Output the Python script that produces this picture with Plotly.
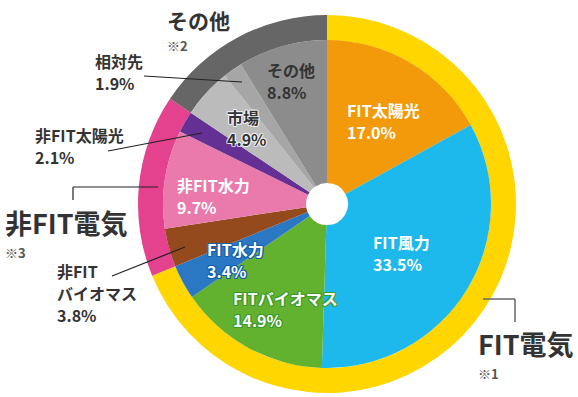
import plotly.graph_objects as go

W, H = 578, 397

# ---- data ----
inner_labels = ["FIT太陽光", "FIT風力", "FITバイオマス", "FIT水力", "非FITバイオマス",
                "非FIT水力", "非FIT太陽光", "市場", "相対先", "その他"]
inner_values = [17.0, 33.5, 14.9, 3.4, 3.8, 9.7, 2.1, 4.9, 1.9, 8.8]
inner_colors = ["#F29A0A", "#1DB9EC", "#62B22F", "#2A78C4", "#944A1C",
                "#EA7AAB", "#653093", "#BBBBBB", "#A6A6A6", "#8C8C8C"]

group_labels = ["FIT電気", "非FIT電気", "その他"]
group_notes = ["※1", "※3", "※2"]
group_values = [68.8, 15.6, 15.6]
group_colors = ["#FFD600", "#E4418E", "#666666"]

FONT = "Noto Sans CJK JP"
DARK = "#333333"

def px(x):
    return x / W

def py(y):
    return 1 - y / H

cx, cy = 327, 204
R_out, R_in, R_hole = 189, 164, 21

fig = go.Figure()
fig.add_trace(go.Pie(
    values=group_values, labels=group_labels, sort=False, direction="clockwise",
    rotation=0, hole=R_in / R_out, textinfo="none", hoverinfo="label+value",
    marker=dict(colors=group_colors, line=dict(width=0)),
    domain=dict(x=[px(cx - R_out), px(cx + R_out)], y=[py(cy + R_out), py(cy - R_out)]),
    showlegend=False,
))
fig.add_trace(go.Pie(
    values=inner_values, labels=inner_labels, sort=False, direction="clockwise",
    rotation=0, hole=R_hole / R_in, textinfo="none", hoverinfo="label+value",
    marker=dict(colors=inner_colors, line=dict(width=0)),
    domain=dict(x=[px(cx - R_in), px(cx + R_in)], y=[py(cy + R_in), py(cy - R_in)]),
    showlegend=False,
))

annotations = []

def txt(x, y, s, size=16, color="white", shadow=None):
    f = dict(family=FONT, size=size, color=color, weight="bold")
    if shadow:
        f["shadow"] = shadow
    annotations.append(dict(x=px(x - 1), y=py(y), xref="paper", yref="paper", text=s,
                            showarrow=False, xanchor="left", yanchor="middle",
                            align="left", font=f))

def outline(c):
    return (f"-1px -1px 0 {c}, 1px -1px 0 {c}, -1px 1px 0 {c}, 1px 1px 0 {c}, "
            f"0 1px 0 {c}, 0 -1px 0 {c}, 1px 0 0 {c}, -1px 0 0 {c}")

def pct(i):
    return f"{inner_values[i]:.1f}%"

# inner labels: (x, name-line y, value-line y, colour, outline)
label_pos = {
    0: (346, 110, 132, "white", None),
    1: (372, 242, 264, "white", None),
    2: (232, 298, 320, "white", outline("#3B9A2A")),
    3: (206, 249, 271, "white", outline("#1560B0")),
    5: (176, 185, 207, "white", None),
    7: (226, 117, 139, DARK, outline("rgba(255,255,255,0.5)")),
    9: (266, 70, 92, DARK, None),
}
for i, (x, y1, y2, col, sh) in label_pos.items():
    txt(x, y1, inner_labels[i], color=col, shadow=sh)
    txt(x, y2, pct(i), color=col, shadow=sh)

# external labels
txt(94, 61, inner_labels[8], color=DARK)
txt(94, 83, pct(8), color=DARK)
txt(34, 135, inner_labels[6], color=DARK)
txt(34, 157, pct(6), color=DARK)
txt(56, 271, "非FIT", color=DARK)
txt(56, 293, "バイオマス", color=DARK)
txt(56, 315, pct(4), color=DARK)

# group titles
txt(477, 343, group_labels[0], size=27, color=DARK)
txt(477, 373, group_notes[0], size=13, color="#555555")
txt(4, 222, group_labels[1], size=27, color=DARK)
txt(4, 252, group_notes[1], size=13, color="#555555")
txt(166, 20, group_labels[2], size=21, color=DARK)
txt(166, 45, group_notes[2], size=13, color="#555555")

shapes = []

def line(x0, y0, x1, y1, color="#222222", w=1.2):
    shapes.append(dict(type="line", xref="paper", yref="paper",
                       x0=px(x0), y0=py(y0), x1=px(x1), y1=py(y1),
                       line=dict(color=color, width=w)))

line(144, 76, 242, 82)
line(108, 151, 202, 133)
line(112, 276, 185, 247)
line(73, 200, 73, 187)
line(73, 187, 158, 187)
line(483, 299, 515, 299, color="#666666", w=1.5)
line(515, 299, 515, 322, color="#666666", w=1.5)

fig.update_layout(
    width=W, height=H, margin=dict(l=0, r=0, t=0, b=0),
    paper_bgcolor="white", plot_bgcolor="white",
    annotations=annotations, shapes=shapes,
)

fig.write_html("out.html", config={"displayModeBar": False},
               post_script="document.body.style.margin='0';document.body.style.overflow='hidden';")
